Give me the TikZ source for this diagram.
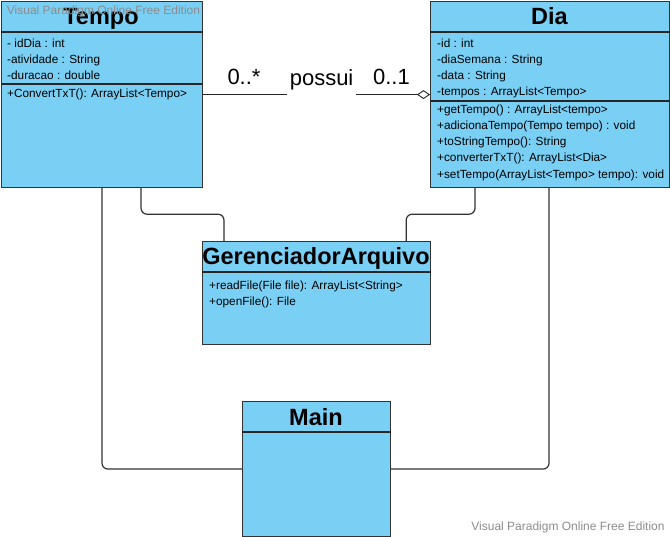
\documentclass[tikz,border=0pt]{standalone}
\usepackage{fontspec}
\setmainfont{Liberation Sans}
\usepackage{tikz}
\usetikzlibrary{arrows.meta}
\usepackage{xcolor}
\definecolor{classblue}{HTML}{7ACFF4}

\begin{document}
\begin{tikzpicture}[x=1pt, y=-1pt,
		cls/.style={draw=black!80, line width=1.2pt, fill=classblue, anchor=north west, inner sep=0pt},
		ctitle/.style={anchor=base, inner sep=0pt, font=\fontsize{23.5}{27}\selectfont\bfseries},
		member/.style={anchor=base west, inner sep=0pt, font=\fontsize{11.8}{14}\selectfont},
		sep/.style={draw=black!85, line width=1.2pt},
		link/.style={draw=black!80, line width=1.2pt, rounded corners=6pt},
		mult/.style={font=\fontsize{22}{26}\selectfont},
		watermark/.style={text=black!45, inner sep=0pt, font=\fontsize{12}{14}\selectfont}]
	\useasboundingbox (0,0) rectangle (670,537);

	% classes
	\node[cls, minimum width=201pt, minimum height=186pt] (tempo) at (1,1) {};
	\node[cls, minimum width=239pt, minimum height=186pt] (dia)   at (430,1) {};
	\node[cls, minimum width=228pt, minimum height=103pt] (ger)   at (202,241) {};
	\node[cls, minimum width=148pt, minimum height=135pt] (main)  at (242,401) {};

	\draw[sep] ([yshift=-31pt]tempo.north west) -- ([yshift=-31pt]tempo.north east);
	\draw[sep] ([yshift=-83pt]tempo.north west) -- ([yshift=-83pt]tempo.north east);
	\draw[sep] ([yshift=-31pt]dia.north west) -- ([yshift=-31pt]dia.north east);
	\draw[sep] ([yshift=-100pt]dia.north west) -- ([yshift=-100pt]dia.north east);
	\draw[sep] ([yshift=-31pt]ger.north west) -- ([yshift=-31pt]ger.north east);
	\draw[sep] ([yshift=-31pt]main.north west) -- ([yshift=-31pt]main.north east);

	\node[ctitle] (tempoTitle) at (101,25)  {Tempo};
	\node[ctitle] (diaTitle)   at (549.5,25) {Dia};
	\node[ctitle] (gerTitle)   at (316,265) {GerenciadorArquivo};
	\node[ctitle] (mainTitle)  at (316,426) {Main};

	% members
	\foreach \m [count=\i] in {- idDia : int, -atividade : String, -duracao : double}
		\node[member] (tempoAttr\i) at (7,32+16*\i) {\m};
	\node[member] (tempoOp1) at (7,98) {+ConvertTxT(): ArrayList<Tempo>};

	\foreach \m [count=\i] in {-id : int, -diaSemana : String, -data : String, -tempos : ArrayList<Tempo>}
		\node[member] (diaAttr\i) at (437,32+16*\i) {\m};
	\foreach \m [count=\i] in {+getTempo() : ArrayList<tempo>, +adicionaTempo(Tempo tempo) : void,
		+toStringTempo(): String, +converterTxT(): ArrayList<Dia>, +setTempo(ArrayList<Tempo> tempo): void}
		\node[member] (diaOp\i) at (437,97+16.25*\i) {\m};

	\foreach \m [count=\i] in {+readFile(File file): ArrayList<String>, +openFile(): File}
		\node[member] (gerOp\i) at (209,274+16*\i) {\m};

	% connectors
	\draw[draw=black!85, line width=0.9pt, -{Diamond[fill=white, length=13pt, width=9pt]}]
		(tempo.east) -- (dia.west)
		node[mult, pos=0.18, yshift=18pt] (multTempo) {0..*}
		node[mult, pos=0.522, yshift=15pt, fill=white, inner xsep=3pt, minimum height=32pt] (assoc) {possui}
		node[mult, pos=0.83, yshift=18pt] (multDia) {0..1};

	\draw[link] ([xshift=140pt]tempo.south west) -- ++(0,26) -| ([xshift=22pt]ger.north west);
	\draw[link] ([xshift=45pt]dia.south west) -- ++(0,26) -| ([xshift=-25pt]ger.north east);
	\draw[link] ([xshift=101pt]tempo.south west) |- (main.west);
	\draw[link] ([xshift=119pt]dia.south west) |- (main.east);

	\node[watermark] (wmTop)    at (103.5,11) {Visual Paradigm Online Free Edition};
	\node[watermark] (wmBottom) at (568,527)  {Visual Paradigm Online Free Edition};
\end{tikzpicture}
\end{document}
